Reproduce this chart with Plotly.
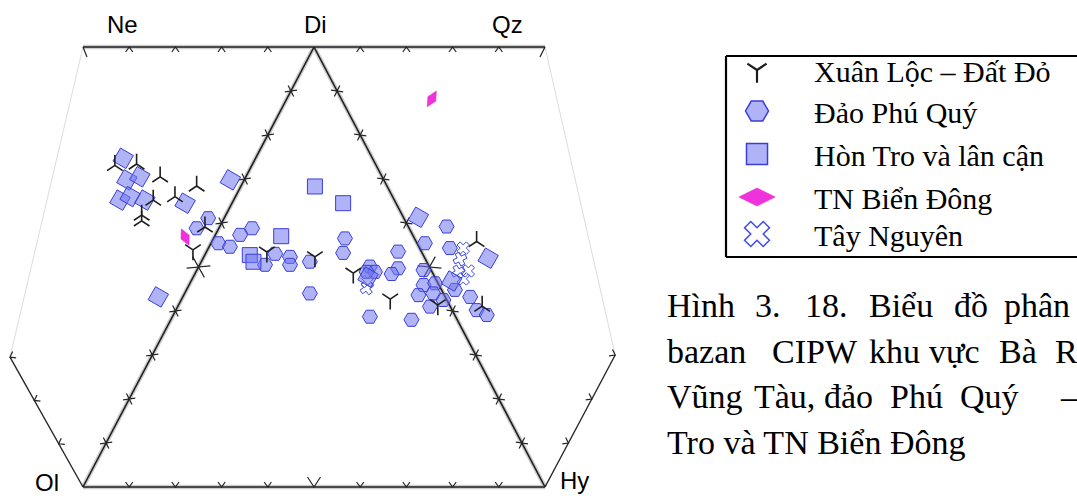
import math
import plotly.graph_objects as go

# ---------------------------------------------------------------
# CIPW normative projection Ne–Di–Qz / Ol–Hy (basalt tetrahedron)
# Diagram units: Ol=(0,0), Hy=(100,0), Di=(50,100)
# ---------------------------------------------------------------
W, H = 1077, 498
X0, SX = 83.0, 4.62      # pixel x = X0 + SX * u
Y0, SY = 487.0, 4.40     # pixel y = Y0 - SY * v


def to_unit(px, py):
    return ((px - X0) / SX, (Y0 - py) / SY)


def to_px(u, v):
    return (X0 + SX * u, Y0 - SY * v)


# apexes of the projection
VERTEX = {
    "Ne": (0.0, 100.0), "Di": (50.0, 100.0), "Qz": (100.0, 100.0),
    "Ol": (0.0, 0.0), "Hy": (100.0, 0.0),
    "L": (-15.8, 29.5), "R": (115.2, 30.0),
}

# --- samples -------------------------------------------------------
# Xuân Lộc – Đất Đỏ
xl_x = [6.9, 11.6, 16.7, 24.6, 19.9, 15.2, 12.7, 12.7, 23.8, 26.4,
        39.8, 50.2, 58.5, 66.5, 85.2, 86.4, 76.8]
xl_y = [73.1, 73.4, 70.5, 68.4, 66.0, 65.2, 61.8, 60.5, 53.9, 59.1,
        53.4, 52.3, 48.6, 42.7, 55.8, 41.1, 41.4]

# Đảo Phú Quý
pq_x = [27.1, 24.6, 29.3, 31.8, 34.0, 36.6, 39.4, 41.6, 44.8, 44.8,
        49.1, 56.7, 56.3, 49.1, 62.1, 63.2, 61.4, 68.2, 68.2, 66.8,
        62.1, 71.1, 78.7, 74.0, 79.4, 73.7, 73.7, 76.2, 72.6, 75.8,
        78.0, 75.1, 80.5, 83.8, 85.2, 87.4]
pq_y = [61.1, 58.8, 55.4, 54.6, 57.3, 58.8, 50.5, 53.0, 52.3, 50.5,
        51.2, 56.5, 53.2, 44.0, 50.1, 48.9, 48.9, 53.5, 49.7, 48.4,
        38.7, 38.0, 59.2, 55.4, 54.3, 49.3, 45.9, 46.3, 43.6, 44.0,
        42.5, 41.0, 44.8, 43.2, 40.2, 39.1]

# Hòn Tro và lân cận
ht_x = [8.7, 9.5, 12.3, 8.0, 10.2, 13.4, 22.1, 31.9, 16.3, 72.6,
        87.7, 79.8, 61.7, 50.2, 56.3, 42.9, 36.1, 36.9]
ht_y = [74.7, 69.8, 70.5, 65.2, 66.0, 65.2, 64.5, 69.8, 43.2, 61.3,
        52.0, 46.8, 47.7, 68.3, 64.5, 57.0, 52.7, 51.2]

# TN Biển Đông
tn_x = [22.1, 75.5]
tn_y = [56.8, 88.2]

# Tây Nguyên
tay_x = [82.3, 81.6, 83.4, 81.2, 82.3, 61.6, 61.4]
tay_y = [54.3, 51.8, 49.1, 48.9, 47.3, 46.7, 45.2]

SERIES_NAMES = ["Xuân Lộc – Đất Đỏ", "Đảo Phú Quý", "Hòn Tro và lân cận",
                "TN Biển Đông", "Tây Nguyên"]

# --- marker styles ---------------------------------------------------
FILL = "rgba(112,118,240,0.55)"
EDGE = "rgb(58,62,215)"
xl_symbols = ["y-up"] * 8 + ["y-down", "y-up", "y-down", "y-down", "y-down",
                             "y-down", "y-up", "y-up", "y-down"]
ht_angles = [30] * 13 + [0] * 5
tn_angles = [-25, 30]
tay_angles = [0, 20, 0, 15, 0, 0, 10]

fig = go.Figure()


def seg(p, q, color, width):
    fig.add_trace(go.Scatter(
        x=[p[0], q[0]], y=[p[1], q[1]], mode="lines",
        line=dict(color=color, width=width), hoverinfo="skip"))


# --- frame -----------------------------------------------------------
V = VERTEX
seg(V["Ne"], V["L"], "rgb(220,220,220)", 1)
seg(V["Qz"], V["R"], "rgb(220,220,220)", 1)
for a, b in [("Ne", "Qz"), ("Di", "Ol"), ("Di", "Hy"), ("Ol", "Hy")]:
    seg(V[a], V[b], "rgb(205,205,205)", 4.5)
for a, b in [("Ne", "Qz"), ("Di", "Ol"), ("Di", "Hy"), ("Ol", "Hy")]:
    seg(V[a], V[b], "rgb(30,30,30)", 1.6)
seg(V["Ol"], V["L"], "rgb(40,40,40)", 1.4)
seg(V["Hy"], V["R"], "rgb(40,40,40)", 1.4)

# --- tick chevrons ---------------------------------------------------
tx, ty = [], []


def chevrons(a, b, ndiv, ks, toward, both=False, big=None):
    ax, ay = to_px(*V[a])
    bx, by = to_px(*V[b])
    L = math.hypot(bx - ax, by - ay)
    dx, dy = (bx - ax) / L, (by - ay) / L
    nx, ny = -dy, dx
    cx, cy = to_px(*V[toward])
    mx, my = (ax + bx) / 2, (ay + by) / 2
    if (cx - mx) * nx + (cy - my) * ny < 0:
        nx, ny = -nx, -ny
    sides = [1, -1] if both else [1]
    for k in ks:
        px = ax + (bx - ax) * k / ndiv
        py = ay + (by - ay) * k / ndiv
        h, w = (10, 6.5) if k == big else (5, 3.6)
        for s in sides:
            p1 = (px + s * nx * h + dx * w, py + s * ny * h + dy * w)
            p2 = (px + s * nx * h - dx * w, py + s * ny * h - dy * w)
            for q in (p1, (px, py), p2):
                u, v = to_unit(*q)
                tx.append(u)
                ty.append(v)
            tx.append(None)
            ty.append(None)


chevrons("Ne", "Di", 5, range(1, 5), "Ol")
chevrons("Di", "Qz", 5, range(1, 5), "Hy")
chevrons("Ol", "Hy", 10, range(1, 10), "Di", big=5)
chevrons("Di", "Ol", 10, range(1, 10), "Hy", both=True, big=5)
chevrons("Di", "Hy", 10, range(1, 10), "Ol", both=True, big=5)
chevrons("Ol", "L", 3, [1, 2, 3], "Ne")
chevrons("Hy", "R", 3, [1, 2, 3], "Qz")
# corner strokes at Ne and Qz
for name, off in (("Ne", (4, 10)), ("Qz", (-5, 10))):
    px, py = to_px(*V[name])
    for q in ((px, py), (px + off[0], py + off[1])):
        u, v = to_unit(*q)
        tx.append(u)
        ty.append(v)
    tx.append(None)
    ty.append(None)

fig.add_trace(go.Scatter(x=tx, y=ty, mode="lines", hoverinfo="skip",
                         line=dict(color="rgb(35,35,35)", width=1.2)))

# --- samples -----------------------------------------------------------
fig.add_trace(go.Scatter(
    x=tay_x, y=tay_y, mode="markers", name=SERIES_NAMES[4],
    marker=dict(symbol="x-open", size=11, color="rgb(60,75,235)",
                angle=tay_angles, line=dict(width=1))))
fig.add_trace(go.Scatter(
    x=pq_x, y=pq_y, mode="markers", name=SERIES_NAMES[1],
    marker=dict(symbol="hexagon2", size=15, color=FILL,
                line=dict(color=EDGE, width=1))))
fig.add_trace(go.Scatter(
    x=ht_x, y=ht_y, mode="markers", name=SERIES_NAMES[2],
    marker=dict(symbol="square", size=15, color=FILL, angle=ht_angles,
                line=dict(color=EDGE, width=1))))
fig.add_trace(go.Scatter(
    x=tn_x, y=tn_y, mode="markers", name=SERIES_NAMES[3],
    marker=dict(symbol="diamond-tall", size=13, color="rgb(240,50,220)",
                angle=tn_angles, line=dict(color="rgb(225,40,205)", width=0.5))))
fig.add_trace(go.Scatter(
    x=xl_x, y=xl_y, mode="markers", name=SERIES_NAMES[0],
    marker=dict(symbol=xl_symbols, size=13, color="rgb(30,30,30)",
                line=dict(color="rgb(30,30,30)", width=1.6))))

# --- legend (boxed, runs off the right edge) ----------------------------
LEG_MARK_X = 757
LEG_TEXT_X = 812
leg_rows = [70, 111, 154, 197, 234]
leg_styles = [
    dict(symbol="y-down", size=16, color="rgb(30,30,30)",
         line=dict(color="rgb(30,30,30)", width=2.2)),
    dict(symbol="hexagon2", size=23, color=FILL, line=dict(color=EDGE, width=1.5)),
    dict(symbol="square", size=21, color=FILL, line=dict(color=EDGE, width=1.5)),
    dict(symbol="diamond-wide", size=26, color="rgb(240,50,220)",
         line=dict(color="rgb(225,40,205)", width=0.5)),
    dict(symbol="x-open", size=22, color="rgb(60,75,235)", line=dict(width=1.5)),
]
for name, row, st in zip(SERIES_NAMES, leg_rows, leg_styles):
    u, v = to_unit(LEG_MARK_X, row)
    fig.add_trace(go.Scatter(x=[u], y=[v], mode="markers", marker=st,
                             hoverinfo="skip"))
    fig.add_annotation(x=LEG_TEXT_X / W, y=1 - (row + 1) / H, xref="paper", yref="paper",
                       text=name, showarrow=False, xanchor="left", yanchor="middle",
                       font=dict(family="Liberation Serif", size=30, color="black"))

BOX_L, BOX_T, BOX_B = 726, 56, 257
fig.add_shape(type="line", xref="paper", yref="paper",
              x0=BOX_L / W, x1=BOX_L / W, y0=1 - BOX_T / H, y1=1 - BOX_B / H,
              line=dict(color="black", width=2.2))
for yb in (BOX_T, BOX_B):
    fig.add_shape(type="line", xref="paper", yref="paper",
                  x0=BOX_L / W, x1=1.0, y0=1 - yb / H, y1=1 - yb / H,
                  line=dict(color="black", width=2.2))

# --- apex labels -------------------------------------------------------
labels = [("Ne", 122, 25), ("Di", 315, 25), ("Qz", 507, 25),
          ("Ol", 47, 482), ("Hy", 574, 480)]
for txt, px, py in labels:
    fig.add_annotation(x=px / W, y=1 - py / H, xref="paper", yref="paper",
                       text=txt, showarrow=False, xanchor="center", yanchor="middle",
                       font=dict(family="Liberation Sans", size=24, color="black"))

# --- caption (justified lines, set word by word) --------------------------
caption = [
    (305, [("Hình", 665), ("3.", 753), ("18.", 803), ("Biểu", 867),
           ("đồ", 952), ("phân", 1002)]),
    (351, [("bazan", 665), ("CIPW", 770), ("khu", 867), ("vực", 927),
           ("Bà", 997), ("R", 1053)]),
    (396, [("Vũng", 665), ("Tàu,", 752), ("đảo", 822), ("Phú", 888),
           ("Quý", 958), ("–", 1058)]),
    (442, [("Tro và TN Biển Đông", 665)]),
]
for py, words in caption:
    for word, px in words:
        fig.add_annotation(x=px / W, y=1 - py / H, xref="paper", yref="paper",
                           text=word, showarrow=False, xanchor="left", yanchor="middle",
                           font=dict(family="Liberation Serif", size=34, color="black"))

xmin, _ = to_unit(0, 0)
xmax, _ = to_unit(W, 0)
_, ymin = to_unit(0, H)
_, ymax = to_unit(0, 0)
fig.update_layout(
    width=W, height=H, margin=dict(l=0, r=0, t=0, b=0),
    paper_bgcolor="white", plot_bgcolor="white", showlegend=False,
    xaxis=dict(range=[xmin, xmax], visible=False, fixedrange=True),
    yaxis=dict(range=[ymin, ymax], visible=False, fixedrange=True),
)
fig.write_html("out.html", config={"displayModeBar": False})
